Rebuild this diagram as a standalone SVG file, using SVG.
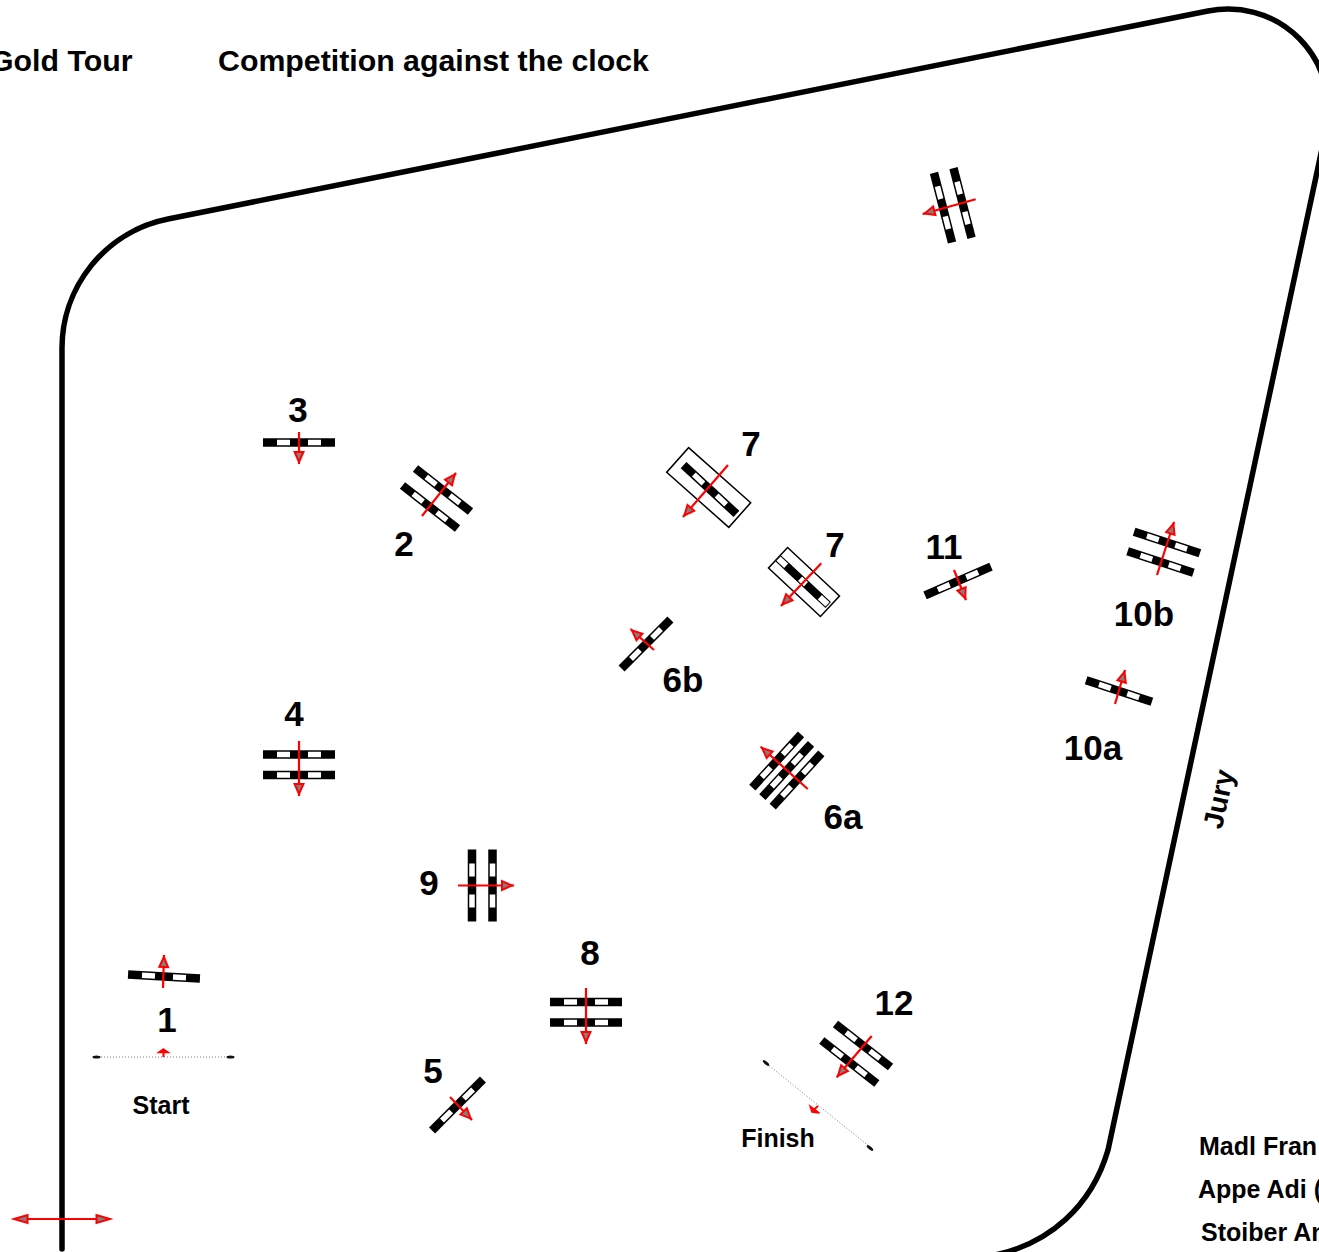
<svg xmlns="http://www.w3.org/2000/svg" width="1319" height="1252" viewBox="0 0 1319 1252">
<style>
text{font-family:"Liberation Sans",Arial,sans-serif;font-weight:bold;fill:#000}
.title{font-size:30.3px}
.num{font-size:35px;text-anchor:middle}
.small{font-size:25px}
.mid{text-anchor:middle}
.arrow{stroke:#f00;stroke-width:2.2;fill:none;marker-end:url(#head)}
.box{fill:none;stroke:#000;stroke-width:1.5}
.dots{stroke:#777;stroke-width:1;stroke-dasharray:1 2;fill:none}
.mini{fill:#f00;stroke:#f00;stroke-width:1.5}
.post{fill:#111}
</style>
<defs>
<marker id="head" markerUnits="userSpaceOnUse" markerWidth="18" markerHeight="14" refX="14.500" refY="7" orient="auto">
<path d="M2.5,2.6 L12.5,7 L2.5,11.4 Z" fill="#808080" stroke="#f00" stroke-width="2"/>
</marker>
<g id="bar">
<rect x="-36" y="-4.25" width="72" height="8.5" fill="#000"/>
<rect x="-22" y="-2.75" width="13" height="5.5" fill="#fff"/>
<rect x="9" y="-2.75" width="13" height="5.5" fill="#fff"/>
</g>
<g id="wall">
<rect x="-34" y="-3.5" width="68" height="7" fill="#fff" stroke="#000" stroke-width="1"/>
<rect x="-23" y="-3.75" width="19" height="7.5" fill="#000"/>
<rect x="4" y="-3.75" width="19" height="7.5" fill="#000"/>
</g>
</defs>
<rect width="1319" height="1252" fill="#fff"/>
<path id="arena" d="M62,1249 V350 A132,132 0 0 1 168,219 L1208,11 A100,100 0 0 1 1326,130 L1108,1150 C1092,1205 1050,1245 990,1256" fill="none" stroke="#000" stroke-width="5.500" stroke-linecap="round"/>
<text class="title" x="-10" y="71">Gold Tour</text>
<text class="title" x="218" y="71">Competition against the clock</text>
<text class="small" x="1199" y="1155">Madl Fran</text>
<text class="small" x="1198" y="1198">Appe Adi (</text>
<text class="small" x="1201" y="1241">Stoiber An</text>
<text class="small mid" style="font-size:28px" transform="translate(1228,801) rotate(-77.7)">Jury</text>

<g id="start">
<line class="dots" x1="95" y1="1057" x2="233" y2="1057"/>
<ellipse class="post" cx="96.500" cy="1057" rx="4" ry="1.500"/>
<ellipse class="post" cx="230.500" cy="1057" rx="4" ry="1.500"/>
<path class="mini" d="M163.500,1049 L168.500,1052.500 L158.500,1052.500 Z"/>
<line x1="163.500" y1="1052" x2="163.500" y2="1057" stroke="#f00" stroke-width="2"/>
<text class="small mid" x="161" y="1114">Start</text>
</g>
<g id="finish">
<line class="dots" x1="767" y1="1064" x2="870" y2="1147"/>
<ellipse class="post" cx="766" cy="1063" rx="4" ry="1.500" transform="rotate(39 766 1063)"/>
<ellipse class="post" cx="870" cy="1148" rx="4" ry="1.500" transform="rotate(39 870 1148)"/>
<path class="mini" d="M810,1106 L819.500,1113 L812,1112 Z"/>
<line x1="818" y1="1106" x2="813.500" y2="1110" stroke="#f00" stroke-width="2"/>
<text class="small mid" x="778" y="1147">Finish</text>
</g>
<g id="n1"><use href="#bar" transform="translate(164,976.500) rotate(3)"/><text class="num" x="167" y="1032">1</text></g>
<g id="n2"><use href="#bar" transform="translate(443,490) rotate(38) scale(.97,1)"/><use href="#bar" transform="translate(430,507) rotate(38) scale(.97,1)"/><text class="num" x="404" y="556">2</text></g>
<g id="n3"><use href="#bar" transform="translate(299,442.500)"/><text class="num" x="298" y="422">3</text></g>
<g id="n4"><use href="#bar" transform="translate(299,754.500)"/><use href="#bar" transform="translate(299,775)"/><text class="num" x="294" y="726">4</text></g>
<g id="n5"><use href="#bar" transform="translate(457.500,1105) rotate(-45)"/><text class="num" x="433" y="1083">5</text></g>
<g id="n6a"><use href="#bar" transform="translate(776.700,761) rotate(-47.500)"/><use href="#bar" transform="translate(786.700,770.500) rotate(-47.500)"/><use href="#bar" transform="translate(797,780) rotate(-47.500)"/><text class="num" x="843" y="829">6a</text></g>
<g id="n6b"><use href="#bar" transform="translate(646,644) rotate(-45) scale(.96,1)"/><text class="num" x="683" y="692">6b</text></g>
<g id="n7a"><rect class="box" x="-41.500" y="-16.500" width="83" height="33" transform="translate(708.700,487.500) rotate(41.600)"/><use href="#bar" transform="translate(710,489.500) rotate(42.700)"/><text class="num" x="751" y="456">7</text></g>
<g id="n7b"><rect class="box" x="-35.500" y="-14" width="71" height="28" transform="translate(804,582) rotate(43)"/><use href="#wall" transform="translate(803,581.500) rotate(43)"/><text class="num" x="835" y="557">7</text></g>
<g id="n8"><use href="#bar" transform="translate(586,1002)"/><use href="#bar" transform="translate(586,1022.500)"/><text class="num" x="590" y="965">8</text></g>
<g id="n9"><use href="#bar" transform="translate(472,885.500) rotate(90)"/><use href="#bar" transform="translate(492.500,885.500) rotate(90)"/><text class="num" x="429" y="895">9</text></g>
<g id="n10a"><use href="#bar" transform="translate(1119,691) rotate(18) scale(.96,1)"/><text class="num" x="1093" y="760">10a</text></g>
<g id="n10b"><use href="#bar" transform="translate(1167,542.500) rotate(18) scale(.96,1)"/><use href="#bar" transform="translate(1160.500,562) rotate(18) scale(.96,1)"/><text class="num" x="1144" y="626">10b</text></g>
<g id="n11"><use href="#bar" transform="translate(958,581) rotate(-23.700)"/><text class="num" x="944" y="559">11</text></g>
<g id="n12"><use href="#bar" transform="translate(863,1045.500) rotate(38) scale(.97,1)"/><use href="#bar" transform="translate(849.300,1062) rotate(38) scale(.97,1)"/><text class="num" x="894" y="1015">12</text></g>
<g id="warmup"><use href="#bar" transform="translate(943,207.700) rotate(75.500)"/><use href="#bar" transform="translate(962.500,203) rotate(75.500)"/></g>

<g id="connectors">
<line class="arrow" x1="163" y1="988" x2="164" y2="955"/>
<line class="arrow" x1="422" y1="516" x2="456" y2="473"/>
<line class="arrow" x1="299" y1="432" x2="299" y2="464"/>
<line class="arrow" x1="299" y1="741" x2="299" y2="796"/>
<line class="arrow" x1="450" y1="1097" x2="472" y2="1120"/>
<line class="arrow" x1="807.700" y1="789" x2="760.700" y2="746.700"/>
<line class="arrow" x1="654" y1="650" x2="630.500" y2="629"/>
<line class="arrow" x1="728" y1="465" x2="683" y2="517"/>
<line class="arrow" x1="821.300" y1="563.300" x2="781" y2="606"/>
<line class="arrow" x1="586" y1="988" x2="586" y2="1044"/>
<line class="arrow" x1="458" y1="885.500" x2="514" y2="885.500"/>
<line class="arrow" x1="1115" y1="704" x2="1125" y2="670"/>
<line class="arrow" x1="1157" y1="575" x2="1174" y2="522"/>
<line class="arrow" x1="954" y1="570" x2="966" y2="600"/>
<line class="arrow" x1="871.700" y1="1036" x2="836.700" y2="1077.300"/>
<line class="arrow" x1="975.700" y1="199.300" x2="922.700" y2="214"/>
<line x1="14" y1="1219" x2="110" y2="1219" stroke="#f00" stroke-width="2.200"/>
<path d="M14,1219 L27.500,1215 V1223 Z" fill="#808080" stroke="#f00" stroke-width="2"/>
<path d="M110,1219 L96.500,1215 V1223 Z" fill="#808080" stroke="#f00" stroke-width="2"/>
</g>
</svg>
